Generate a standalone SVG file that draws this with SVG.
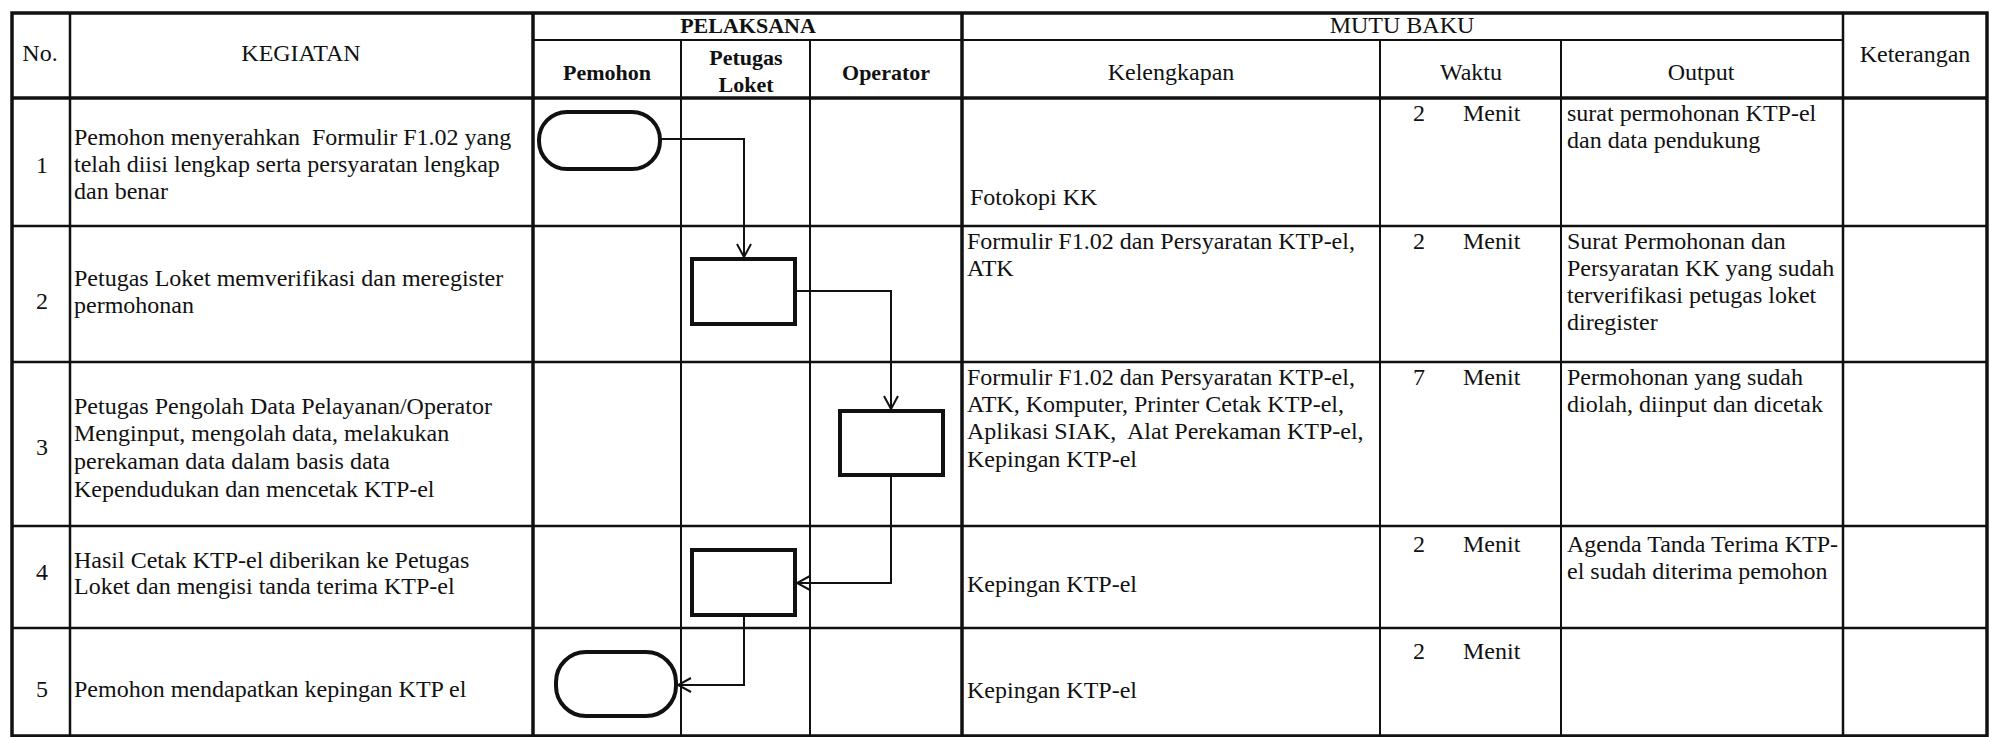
<svg xmlns="http://www.w3.org/2000/svg" width="1990" height="737" viewBox="0 0 1990 737">
<style>
text{font-family:"Liberation Serif","Times New Roman",serif;fill:#111;white-space:pre;}
.t{font-size:24px;}
.h{font-size:24px;}
.hb{font-size:22px;font-weight:bold;}
.c{text-anchor:middle;}
.thick{stroke:#111;stroke-width:3.5;fill:none;}
.mid{stroke:#111;stroke-width:2.5;fill:none;}
.thin{stroke:#111;stroke-width:2;fill:none;}
.shape{stroke:#111;stroke-width:4;fill:#fff;}
.conn{stroke:#111;stroke-width:2;fill:none;}
</style>
<defs>
<marker id="arr" markerUnits="userSpaceOnUse" markerWidth="16" markerHeight="16" refX="14" refY="8" orient="auto">
<path d="M1,1 L14,8 L1,15" fill="none" stroke="#111" stroke-width="2"/>
</marker>
</defs>
<rect width="1990" height="737" fill="#fff"/>
<g id="table">
<rect x="12" y="13" width="1975" height="723" class="thick"/>
<line x1="70" y1="13" x2="70" y2="736" class="mid"/>
<line x1="533" y1="13" x2="533" y2="736" class="thick"/>
<line x1="681" y1="40" x2="681" y2="736" class="thin"/>
<line x1="810" y1="40" x2="810" y2="736" class="thin"/>
<line x1="962" y1="13" x2="962" y2="736" class="thick"/>
<line x1="1380" y1="40" x2="1380" y2="736" class="thin"/>
<line x1="1561" y1="40" x2="1561" y2="736" class="thin"/>
<line x1="1843" y1="13" x2="1843" y2="736" class="mid"/>
<line x1="533" y1="40" x2="1843" y2="40" class="thin"/>
<line x1="12" y1="98" x2="1987" y2="98" class="thick"/>
<line x1="12" y1="226" x2="1987" y2="226" class="mid"/>
<line x1="12" y1="362" x2="1987" y2="362" class="mid"/>
<line x1="12" y1="526" x2="1987" y2="526" class="mid"/>
<line x1="12" y1="628" x2="1987" y2="628" class="mid"/>
</g>
<g id="header">
<text class="h c" x="40" y="61">No.</text>
<text class="h c" x="301" y="61">KEGIATAN</text>
<text class="hb c" x="748" y="33">PELAKSANA</text>
<text class="hb c" x="607" y="80">Pemohon</text>
<text class="hb c" x="746" y="65">Petugas</text>
<text class="hb c" x="746" y="92">Loket</text>
<text class="hb c" x="886" y="80">Operator</text>
<text class="h c" x="1402" y="33">MUTU BAKU</text>
<text class="h c" x="1171" y="80">Kelengkapan</text>
<text class="h c" x="1471" y="80">Waktu</text>
<text class="h c" x="1701" y="80">Output</text>
<text class="h c" x="1915" y="62">Keterangan</text>
</g>
<g id="row1">
<text class="t c" x="42" y="173">1</text>
<text class="t" x="74" y="145" xml:space="preserve">Pemohon menyerahkan  Formulir F1.02 yang</text>
<text class="t" x="74" y="172">telah diisi lengkap serta persyaratan lengkap</text>
<text class="t" x="74" y="199">dan benar</text>
<text class="t" x="970" y="205">Fotokopi KK</text>
<text class="t c" x="1419" y="121">2</text>
<text class="t" x="1463" y="121">Menit</text>
<text class="t" x="1567" y="121">surat permohonan KTP-el</text>
<text class="t" x="1567" y="148">dan data pendukung</text>
</g>
<g id="row2">
<text class="t c" x="42" y="309">2</text>
<text class="t" x="74" y="286">Petugas Loket memverifikasi dan meregister</text>
<text class="t" x="74" y="313">permohonan</text>
<text class="t" x="967" y="249">Formulir F1.02 dan Persyaratan KTP-el,</text>
<text class="t" x="967" y="276">ATK</text>
<text class="t c" x="1419" y="249">2</text>
<text class="t" x="1463" y="249">Menit</text>
<text class="t" x="1567" y="249">Surat Permohonan dan</text>
<text class="t" x="1567" y="276">Persyaratan KK yang sudah</text>
<text class="t" x="1567" y="303">terverifikasi petugas loket</text>
<text class="t" x="1567" y="330">diregister</text>
</g>
<g id="row3">
<text class="t c" x="42" y="455">3</text>
<text class="t" x="74" y="414">Petugas Pengolah Data Pelayanan/Operator</text>
<text class="t" x="74" y="441">Menginput, mengolah data, melakukan</text>
<text class="t" x="74" y="469">perekaman data dalam basis data</text>
<text class="t" x="74" y="497">Kependudukan dan mencetak KTP-el</text>
<text class="t" x="967" y="385">Formulir F1.02 dan Persyaratan KTP-el,</text>
<text class="t" x="967" y="412">ATK, Komputer, Printer Cetak KTP-el,</text>
<text class="t" x="967" y="439" xml:space="preserve">Aplikasi SIAK,  Alat Perekaman KTP-el,</text>
<text class="t" x="967" y="467">Kepingan KTP-el</text>
<text class="t c" x="1419" y="385">7</text>
<text class="t" x="1463" y="385">Menit</text>
<text class="t" x="1567" y="385">Permohonan yang sudah</text>
<text class="t" x="1567" y="412">diolah, diinput dan dicetak</text>
</g>
<g id="row4">
<text class="t c" x="42" y="580">4</text>
<text class="t" x="74" y="568">Hasil Cetak KTP-el diberikan ke Petugas</text>
<text class="t" x="74" y="594">Loket dan mengisi tanda terima KTP-el</text>
<text class="t" x="967" y="592">Kepingan KTP-el</text>
<text class="t c" x="1419" y="552">2</text>
<text class="t" x="1463" y="552">Menit</text>
<text class="t" x="1567" y="552">Agenda Tanda Terima KTP-</text>
<text class="t" x="1567" y="579">el sudah diterima pemohon</text>
</g>
<g id="row5">
<text class="t c" x="42" y="697">5</text>
<text class="t" x="74" y="697">Pemohon mendapatkan kepingan KTP el</text>
<text class="t" x="967" y="698">Kepingan KTP-el</text>
<text class="t c" x="1419" y="659">2</text>
<text class="t" x="1463" y="659">Menit</text>
</g>
<g id="connectors">
<path class="conn" d="M660,139 H744 V257" marker-end="url(#arr)"/>
<path class="conn" d="M795,291 H891 V409" marker-end="url(#arr)"/>
<path class="conn" d="M891,475 V583 H797" marker-end="url(#arr)"/>
<path class="conn" d="M744,615 V685 H678" marker-end="url(#arr)"/>
</g>
<g id="node-start">
<rect class="shape" x="539" y="112" width="121" height="57" rx="28"/>
</g>
<g id="node-verify">
<rect class="shape" x="692" y="259" width="103" height="65"/>
</g>
<g id="node-process">
<rect class="shape" x="840" y="411" width="103" height="64"/>
</g>
<g id="node-handover">
<rect class="shape" x="692" y="550" width="103" height="65"/>
</g>
<g id="node-end">
<rect class="shape" x="556" y="652" width="120" height="64" rx="30"/>
</g>
</svg>
